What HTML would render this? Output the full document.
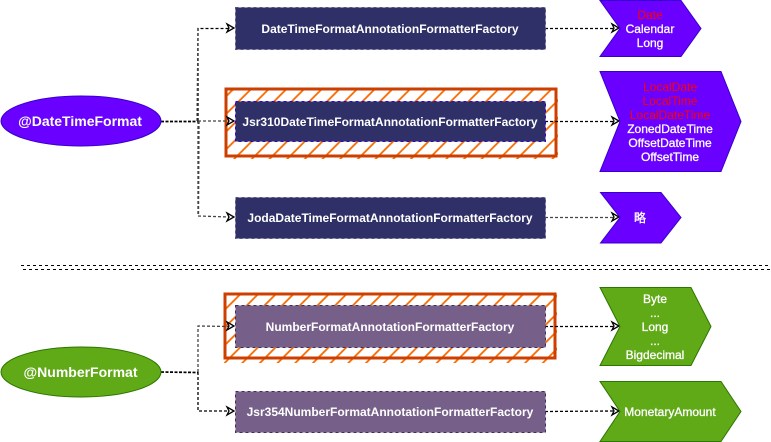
<!DOCTYPE html>
<html><head><meta charset="utf-8"><style>
html,body{margin:0;padding:0;background:#fff;width:771px;height:442px;overflow:hidden}
svg{display:block}
text{font-family:"Liberation Sans","Noto Sans CJK SC",sans-serif;font-weight:bold;fill:#fff;text-anchor:middle;font-size:12px}
.e{font-size:14px}
.w{font-weight:normal;stroke:#fff;stroke-width:.3}
.r{fill:#f00;font-weight:normal}
.c{fill:none;stroke:#000;stroke-width:1.3;stroke-dasharray:3 2}
.g{fill:none;stroke:#444;stroke-width:1.3;stroke-dasharray:3 2}
.k{fill:none;stroke:#000;stroke-width:1.7;stroke-dasharray:3 1.500}
.a{fill:none;stroke:#000;stroke-width:1.3}
.b{stroke-dasharray:3 3;stroke-width:1}
.o{fill:none;stroke:#cc3f00;stroke-width:3}
</style></head><body>
<svg width="771" height="442" viewBox="0 0 771 442" xmlns="http://www.w3.org/2000/svg">
<defs>
<pattern id="hp" patternUnits="userSpaceOnUse" width="12.500" height="12.500" patternTransform="rotate(45)">
<line x1="3" y1="0" x2="3" y2="12.500" stroke="#f56a00" stroke-width="1.800"/>
</pattern>
</defs>

<!-- hatch 1 -->
<rect x="225" y="88" width="333" height="71" fill="url(#hp)"/>
<rect class="o" x="226" y="89" width="330" height="67"/>
<!-- hatch 2 -->
<rect x="224" y="293" width="333" height="70" fill="url(#hp)"/>
<rect class="o" x="225" y="294" width="330" height="64"/>

<!-- connectors top -->
<path class="k" d="M161 121.500L198 121.500"/>
<path class="c" d="M198 121L198 28.500L229 28.500"/>
<path class="g" d="M197 121L198 29"/>
<path class="g" d="M198 121L229 121"/>
<path class="g" d="M198 121L198 216L229 217"/>
<path class="g" d="M199 121L198.500 215"/>
<path class="c" d="M545 28.500L614 28.500"/>
<path class="c" d="M545 121.500L614 121.500"/>
<path class="g" d="M545 217.500L614 217.500"/>
<path class="k" d="M161 372L198 372.500"/>
<path class="g" d="M198 372L198 326L229 326.500"/>
<path class="c" d="M198 372L198 411L229 411"/>
<path class="c" d="M545 326.500L614 326.500"/>
<path class="c" d="M545 411.500L614 411"/>

<!-- arrowheads -->
<path class="a" d="M227 24L234 28L227 32L229 28Z"/>
<path class="a" d="M227 117L234 121L227 125L229 121Z"/>
<path class="a" d="M227 213L234 217L227 221L229 217Z"/>
<path class="a" d="M227 322L234 326L227 330L229 326Z"/>
<path class="a" d="M227 407L234 411L227 415L229 411Z"/>
<path class="a" d="M612 24L619 28L612 32L614 28Z"/>
<path class="a" d="M612 117L619 121L612 125L614 121Z"/>
<path class="a" d="M612 213L619 217L612 221L614 217Z"/>
<path class="a" d="M612 322L619 326L612 330L614 326Z"/>
<path class="a" d="M612 407L619 411L612 415L614 411Z"/>

<!-- separators -->
<line class="a b" x1="21" y1="265.500" x2="771" y2="265.500"/>
<line class="a b" x1="23" y1="269.500" x2="771" y2="269.500"/>

<!-- ellipses -->
<ellipse cx="81" cy="121" rx="80" ry="25" fill="#6a00ff" stroke="#3700cc"/>
<ellipse cx="81" cy="372" rx="80" ry="25" fill="#60a917" stroke="#2d7600"/>
<text class="e" x="80" y="126">@DateTimeFormat</text>
<text class="e" x="80.500" y="377">@NumberFormat</text>

<!-- rects -->
<g stroke-dasharray="3 3">
<rect x="235.500" y="7.500" width="310" height="42" fill="#2f3068" stroke="#56517e"/>
<rect x="235.500" y="101.500" width="310" height="40" fill="#2f3068" stroke="#3700cc"/>
<rect x="235.500" y="197.500" width="310" height="41" fill="#2f3068" stroke="#56517e"/>
<rect x="235.500" y="305.500" width="310" height="42" fill="#76608a" stroke="#432d57"/>
<rect x="235.500" y="391.500" width="310" height="41" fill="#76608a" stroke="#432d57"/>
</g>
<text x="390" y="33">DateTimeFormatAnnotationFormatterFactory</text>
<text x="390" y="126">Jsr310DateTimeFormatAnnotationFormatterFactory</text>
<text x="390" y="222">JodaDateTimeFormatAnnotationFormatterFactory</text>
<text x="390" y="331">NumberFormatAnnotationFormatterFactory</text>
<text x="390" y="416">Jsr354NumberFormatAnnotationFormatterFactory</text>

<!-- chevrons -->
<g fill="#6a00ff" stroke="#3700cc">
<path d="M600 0.500H681L701 28.500L681 56.500H600L620 28.500Z"/>
<path d="M600 71.500H721L741 121.500L721 171.500H600L620 121.500Z"/>
<path d="M600.500 192.500H661L681 217.500L661 243H600.500L620 217.500Z"/>
</g>
<g fill="#60a917" stroke="#2d7600">
<path d="M600 287.500H691L711 326.500L691 365.500H600L620 326.500Z"/>
<path d="M600 381.500H721L741 411.500L721 441.500H600L620 411.500Z"/>
</g>

<text class="r" x="650" y="19">Date</text>
<text class="w" x="650" y="33">Calendar</text>
<text class="w" x="650" y="47">Long</text>

<text class="r" x="670" y="91">LocalDate</text>
<text class="r" x="670" y="105">LocalTime</text>
<text class="r" x="670" y="119">LocalDateTime</text>
<text class="w" x="670" y="133">ZonedDateTime</text>
<text class="w" x="670" y="147">OffsetDateTime</text>
<text class="w" x="670" y="161">OffsetTime</text>

<text class="w" x="640" y="222">略</text>

<text class="w" x="655" y="303">Byte</text>
<text class="w" x="655" y="317">...</text>
<text class="w" x="655" y="331">Long</text>
<text class="w" x="655" y="345">...</text>
<text class="w" x="655" y="359">Bigdecimal</text>

<text class="w" x="670" y="416">MonetaryAmount</text>
</svg>
</body></html>
